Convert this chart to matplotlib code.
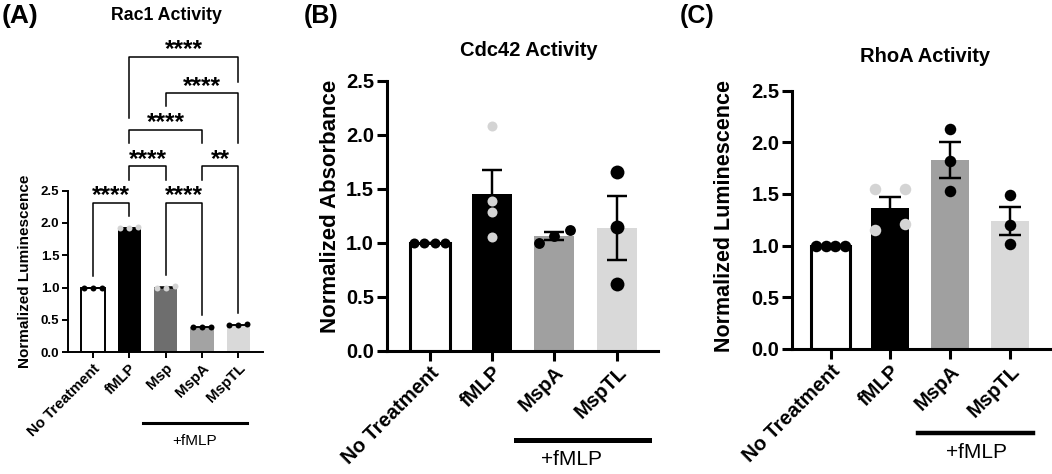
import numpy as np
import matplotlib
matplotlib.use('Agg')
import matplotlib.pyplot as plt

plt.rcParams['font.family'] = ['Liberation Sans', 'DejaVu Sans']
plt.rcParams['font.weight'] = 'bold'

# (A) Rac1 activity
rac1_labels = ['No Treatment', 'fMLP', 'Msp', 'MspA', 'MspTL']
rac1_points = [[1.00, 1.00, 1.00],
               [1.92, 1.93, 1.92],
               [1.00, 1.02, 1.00],
               [0.39, 0.39, 0.39],
               [0.42, 0.43, 0.42]]
rac1_sig = [(0, 1, '****'), (1, 2, '****'), (2, 3, '****'), (3, 4, '**'),
            (1, 3, '****'), (2, 4, '****'), (1, 4, '****')]

# (B) Cdc42 activity
cdc42_labels = ['No Treatment', 'fMLP', 'MspA', 'MspTL']
cdc42_points = [[1.00, 1.00, 1.00, 1.00],
                [2.08, 1.38, 1.28, 1.05],
                [1.12, 1.00, 1.06],
                [1.65, 1.14, 0.62]]

# (C) RhoA activity
rhoa_labels = ['No Treatment', 'fMLP', 'MspA', 'MspTL']
rhoa_points = [[1.00, 1.00, 1.00, 1.00],
               [1.55, 1.55, 1.21, 1.155],
               [2.13, 1.82, 1.525],
               [1.49, 1.20, 1.02]]

W, H = 1052, 474
fig = plt.figure(figsize=(W / 100, H / 100), dpi=100)


def px_axes(left, right, bottom, top):
    return fig.add_axes([left / W, (H - bottom) / H, (right - left) / W, (bottom - top) / H])


def swarm(vals, px_unit, diam, half=0.25):
    # points that would overlap are spread evenly across the middle of the bar
    vals = np.asarray(vals)
    order = np.argsort(vals)
    groups, cur = [], [order[0]]
    for i in order[1:]:
        if (vals[i] - vals[cur[-1]]) * px_unit < 0.9 * diam:
            cur.append(i)
        else:
            groups.append(cur)
            cur = [i]
    groups.append(cur)
    off = np.zeros(len(vals))
    for g in groups:
        if len(g) > 1:
            off[g] = np.linspace(-half, half, len(g))
    return off


def draw_panel(ax, labels, points, bar_colors, px_unit, diam, lw, ms,
               capsize, fs, xfs, xlim, ylim):
    x = np.arange(len(labels))
    means = [np.mean(p) for p in points]
    sems = [np.std(p, ddof=1) / np.sqrt(len(p)) for p in points]
    edges = ['black' if c == 'white' else c for c in bar_colors]
    ax.bar(x, means, width=0.64, color=bar_colors, edgecolor=edges,
           linewidth=[lw if c == 'white' else 0 for c in bar_colors], zorder=2)
    ax.errorbar(x, means, yerr=sems, fmt='none', ecolor='black', elinewidth=lw * 0.8,
                capsize=capsize, capthick=lw * 0.8, zorder=3)
    for i, p in enumerate(points):
        dot = '#d4d4d4' if bar_colors[i] in ('black', '#6e6e6e') else 'black'
        size = ms[i] if isinstance(ms, list) else ms
        ax.plot(i + swarm(p, px_unit, diam), p, 'o', color=dot, ms=size,
                mec='none', zorder=4, clip_on=False)
    ax.set_xlim(*xlim)
    ax.set_ylim(*ylim)
    ax.spines['top'].set_visible(False)
    ax.spines['right'].set_visible(False)
    ax.spines['left'].set_bounds(0, 2.5)
    for s in ('left', 'bottom'):
        ax.spines[s].set_linewidth(lw)
    ax.set_yticks([0, 0.5, 1.0, 1.5, 2.0, 2.5])
    ax.set_yticklabels(['0.0', '0.5', '1.0', '1.5', '2.0', '2.5'], fontsize=fs, fontweight='bold')
    ax.set_xticks(x)
    ax.set_xticklabels(labels, rotation=45, ha='right', rotation_mode='anchor',
                       fontsize=xfs, fontweight='bold')
    ax.tick_params(width=lw, length=lw * 3.2, pad=2)
    return means


# ---- Panel A
axA = px_axes(68.3, 263.3, 352.3, 40)
draw_panel(axA, rac1_labels, rac1_points,
           ['white', 'black', '#6e6e6e', '#a3a3a3', '#d9d9d9'],
           64.7, 6, 1.4, 4.3, 5, 9.5, 10.8, (-0.68, 4.69), (0, 312.3 / 64.7))

# significance brackets, stacked greedily
base = max(max(p) for p in rac1_points) + 0.38
levels = []
for l, r, lab in sorted(rac1_sig, key=lambda s: (s[1] - s[0], s[0])):
    k = 0
    while any(lv == k and not (r < l2 or l > r2) for (l2, r2, _, lv) in levels):
        k += 1
    levels.append((l, r, lab, k))
widest = max(r - l for l, r, _ in rac1_sig)
for l, r, lab, k in levels:
    y = base + 0.565 * k
    gap = 0.18 if r - l == widest else 0.36
    legs = []
    for c in (l, r):
        below = [lv for (l2, r2, _, lv) in levels if lv < k and l2 <= c <= r2]
        if below:
            legs.append(base + 0.565 * max(below) + gap)
        else:
            legs.append(max(rac1_points[c]) + 0.18)
    axA.plot([l, l, r, r], [legs[0], y, y, legs[1]], color='black', lw=1.1, zorder=5)
    axA.text((l + r) / 2, y + 0.01, lab, ha='center', va='baseline', fontsize=17.5,
             fontweight='bold')

axA.plot([1.38, 4.24], [-0.226, -0.226], color='black', lw=2.2,
         transform=axA.get_xaxis_transform(), clip_on=False)
axA.text(2.81, -0.283, '+fMLP', ha='center', va='center', fontsize=11,
         fontweight='normal', transform=axA.get_xaxis_transform())

fig.text(25 / W, 1 - 271 / H, 'Normalized Luminescence', rotation=90, ha='center',
         va='center', fontsize=11, fontweight='bold')
fig.text(166 / W, 1 - 16 / H, 'Rac1 Activity', ha='center', va='center', fontsize=12.8,
         fontweight='bold')
fig.text(2 / W, 1 - 16 / H, '(A)', ha='left', va='center', fontsize=19, fontweight='bold')

# ---- Panel B
axB = px_axes(386.5, 658, 350.5, 80.5)
draw_panel(axB, cdc42_labels, cdc42_points, ['white', 'black', '#a0a0a0', '#d9d9d9'],
           108, 10, 2.2, [7.2, 7.2, 7.8, 10], 7.2, 14.5, 14.5, (-0.69, 3.66), (0, 2.5))
axB.plot([1.38, 3.51], [-0.333, -0.333], color='black', lw=3.6,
         transform=axB.get_xaxis_transform(), clip_on=False)
axB.text(2.27, -0.405, '+fMLP', ha='center', va='center', fontsize=15,
         fontweight='normal', transform=axB.get_xaxis_transform())
fig.text(330 / W, 1 - 206 / H, 'Normalized Absorbance', rotation=90, ha='center',
         va='center', fontsize=16, fontweight='bold')
fig.text(529 / W, 1 - 51 / H, 'Cdc42 Activity', ha='center', va='center', fontsize=14.5,
         fontweight='bold')
fig.text(304 / W, 1 - 16 / H, '(B)', ha='left', va='center', fontsize=18, fontweight='bold')

# ---- Panel C
axC = px_axes(792, 1052, 349, 90.5)
draw_panel(axC, rhoa_labels, rhoa_points, ['white', 'black', '#a0a0a0', '#d9d9d9'],
           103.4, 11, 2.2, 8.3, 7.9, 14.5, 14.5, (-0.645, 3.71), (0, 2.5))
axC.plot([1.47, 3.39], [-0.324, -0.324], color='black', lw=3.2,
         transform=axC.get_xaxis_transform(), clip_on=False)
axC.text(2.45, -0.4, '+fMLP', ha='center', va='center', fontsize=15,
         fontweight='normal', transform=axC.get_xaxis_transform())
fig.text(724 / W, 1 - 216 / H, 'Normalized Luminescence', rotation=90, ha='center',
         va='center', fontsize=15.5, fontweight='bold')
fig.text(925 / W, 1 - 57 / H, 'RhoA Activity', ha='center', va='center', fontsize=14.5,
         fontweight='bold')
fig.text(680 / W, 1 - 16 / H, '(C)', ha='left', va='center', fontsize=18, fontweight='bold')

fig.savefig('out.png', dpi=100)
